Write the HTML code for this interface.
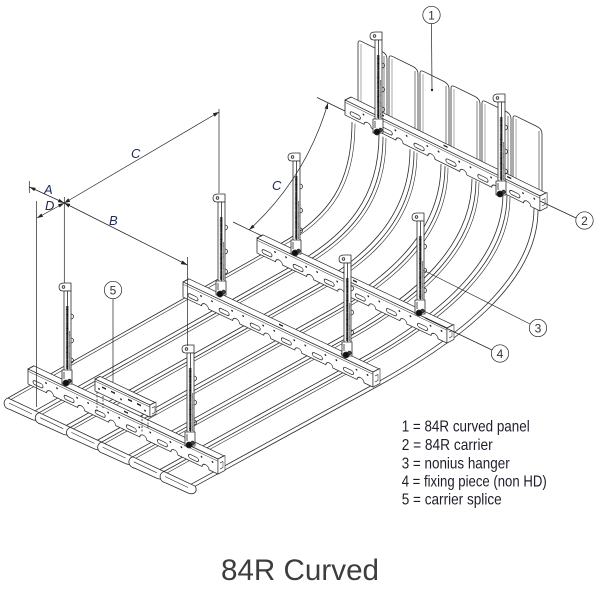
<!DOCTYPE html>
<html><head><meta charset="utf-8"><style>
html,body{margin:0;padding:0;background:#fff;}
svg{display:block;}
</style></head><body>
<svg width="600" height="600" viewBox="0 0 600 600" xmlns="http://www.w3.org/2000/svg" xmlns:xlink="http://www.w3.org/1999/xlink" stroke="#2b2b2b" stroke-width="0.8" fill="none" stroke-linejoin="round">
<defs>
 <g id="car">
  <polygon points="0,0 190,0 196,-6 6,-6" fill="#fff"/>
  <path fill="#fff" d="M0,0 H190 V15 H181 A3.5,3.5 0 0 0 174,15 H149.9 A3.5,3.5 0 0 0 142.9,15 H118.8 A3.5,3.5 0 0 0 111.8,15 H87.7 A3.5,3.5 0 0 0 80.7,15 H56.6 A3.5,3.5 0 0 0 49.6,15 H25.5 A3.5,3.5 0 0 0 18.5,15 H0 Z"/>
  <line x1="0" y1="2.2" x2="190" y2="2.2" stroke-width="0.5"/>
  <g fill="#fff">
   <rect x="5" y="8.5" width="10" height="4" rx="2"/>
   <rect x="36.1" y="8.5" width="10" height="4" rx="2"/>
   <rect x="67.2" y="8.5" width="10" height="4" rx="2"/>
   <rect x="98.3" y="8.5" width="10" height="4" rx="2"/>
   <rect x="129.4" y="8.5" width="10" height="4" rx="2"/>
   <rect x="160.5" y="8.5" width="10" height="4" rx="2"/>
  </g>
  <g fill="#222" stroke="none">
   <circle cx="18" cy="5.5" r="0.9"/><circle cx="29" cy="5.5" r="0.9"/>
   <circle cx="49.1" cy="5.5" r="0.9"/><circle cx="60.1" cy="5.5" r="0.9"/>
   <circle cx="80.2" cy="5.5" r="0.9"/><circle cx="91.2" cy="5.5" r="0.9"/>
   <circle cx="111.3" cy="5.5" r="0.9"/><circle cx="122.3" cy="5.5" r="0.9"/>
   <circle cx="142.4" cy="5.5" r="0.9"/><circle cx="153.4" cy="5.5" r="0.9"/>
   <circle cx="173.5" cy="5.5" r="0.9"/><circle cx="184.5" cy="5.5" r="0.9"/>
   <rect x="34" y="-4" width="4" height="1.5"/><rect x="96" y="-4" width="4" height="1.5"/><rect x="158" y="-4" width="4" height="1.5"/>
  </g>
  <polygon points="190,0 197,-7 197,8 190,15" fill="#fff" stroke-width="0.6"/>
  <path d="M192,3 L195,0 V6 L192,9" stroke-width="0.5"/>
 </g>
 <g id="hg">
  <path d="M-7,1 Q-7,-3 -2,-3 L5,-3 L5,5 L-3,5 Q-7,5 -7,1Z" fill="#fff"/>
  <circle cx="-2.5" cy="1" r="1.3"/>
  <rect x="-2" y="5" width="7" height="80" fill="#fff"/>
  <line x1="1.5" y1="5" x2="1.5" y2="85"/>
  <line x1="1.2" y1="20" x2="1.2" y2="83" stroke-width="2.6" stroke-dasharray="0.6 0.35" stroke="#000"/>
  <line x1="3.6" y1="45" x2="3.6" y2="83" stroke-width="1" stroke-dasharray="0.6 0.5" stroke="#222"/>
  <path d="M5,28 a2.5,2.5 0 0 1 0,5 M5,52 a2.5,2.5 0 0 1 0,5 M5,72 a2.5,2.5 0 0 1 0,5"/>
  <rect x="-4" y="84" width="10" height="14" fill="#fff"/>
  <line x1="-2" y1="86" x2="-2" y2="93"/>
  <circle cx="3.5" cy="95" r="1.8" fill="#444"/>
  <circle cx="0" cy="97" r="3" fill="#111"/>
 </g>
</defs>

<!-- panel boundaries -->
<g id="bnd">
 <path d="M8,398 L280,244 C330,216 352,182 352,122"/>
 <path d="M39.2,412.7 L296.7,267.5 C352.5,236.3 383,198.3 383,136.7"/>
 <path d="M70.4,427.4 L313.3,291 C375,256.7 414,214.7 414,151.3"/>
 <path d="M101.6,442.1 L330,314.5 C397.5,277 445,231 445,166"/>
 <path d="M132.8,456.8 L346.7,338 C420,297.3 476,247.3 476,180.7"/>
 <path d="M164,471.5 L363.3,361.5 C442.5,317.7 507,263.7 507,195.3"/>
 <path d="M195.2,486.2 L380,385 C465,338 538,280 538,210"/>
</g>
<g transform="translate(-4,-2)">
 <path d="M39.2,412.7 L296.7,267.5 C352.5,236.3 383,198.3 383,136.7"/>
 <path d="M70.4,427.4 L313.3,291 C375,256.7 414,214.7 414,151.3"/>
 <path d="M101.6,442.1 L330,314.5 C397.5,277 445,231 445,166"/>
 <path d="M132.8,456.8 L346.7,338 C420,297.3 476,247.3 476,180.7"/>
 <path d="M164,471.5 L363.3,361.5 C442.5,317.7 507,263.7 507,195.3"/>
 <path d="M195.2,486.2 L380,385 C465,338 538,280 538,210"/>
</g>
<g transform="translate(3,1.5)" stroke-width="0.6">
 <path d="M8,398 L280,244 C330,216 352,182 352,122"/>
 <path d="M39.2,412.7 L296.7,267.5 C352.5,236.3 383,198.3 383,136.7"/>
 <path d="M70.4,427.4 L313.3,291 C375,256.7 414,214.7 414,151.3"/>
 <path d="M101.6,442.1 L330,314.5 C397.5,277 445,231 445,166"/>
 <path d="M132.8,456.8 L346.7,338 C420,297.3 476,247.3 476,180.7"/>
 <path d="M164,471.5 L363.3,361.5 C442.5,317.7 507,263.7 507,195.3"/>
</g>

<!-- front profiles -->
<g fill="#fff">
 <path d="M8,398 C2,400 3,408 10,409.5 L32,419.5 C38,422 42,418 39.2,412.7 Z"/>
 <path d="M39.2,412.7 C33.2,414.7 34.2,422.7 41.2,424.2 L63.2,434.2 C69.2,436.7 73.2,432.7 70.4,427.4 Z"/>
 <path d="M70.4,427.4 C64.4,429.4 65.4,437.4 72.4,438.9 L94.4,448.9 C100.4,451.4 104.4,447.4 101.6,442.1 Z"/>
 <path d="M101.6,442.1 C95.6,444.1 96.6,452.1 103.6,453.6 L125.6,463.6 C131.6,466.1 135.6,462.1 132.8,456.8 Z"/>
 <path d="M132.8,456.8 C126.8,458.8 127.8,466.8 134.8,468.3 L156.8,478.3 C162.8,480.8 166.8,476.8 164,471.5 Z"/>
 <path d="M164,471.5 C158,473.5 159,481.5 166,483 L188,493 C194,495.5 198,491.5 195.2,486.2 Z"/>
</g>
<g stroke-width="0.6">
 <path d="M9,403 L32,414"/><path d="M40.2,417.7 L63.2,428.7"/><path d="M71.4,432.4 L94.4,443.4"/>
 <path d="M102.6,447.1 L125.6,458.1"/><path d="M133.8,461.8 L156.8,472.8"/><path d="M165,476.5 L188,487.5"/>
</g>

<!-- vertical panels -->
<g fill="#fff">
 <path d="M358,112.4 L358,43 Q358,40 361,41.2 L382,51.5 Q387,54 387,59 L387,128.4 Z"/>
 <path d="M389,127.6 L389,58 Q389,55 392,56.2 L413,66.5 Q418,69 418,74 L418,143.6 Z"/>
 <path d="M420,142.9 L420,73 Q420,70 423,71.2 L444,81.5 Q449,84 449,89 L449,158.9 Z"/>
 <path d="M451,158.1 L451,88 Q451,85 454,86.2 L475,96.5 Q480,99 480,104 L480,174.1 Z"/>
 <path d="M482,173.4 L482,103 Q482,100 485,101.2 L506,111.5 Q511,114 511,119 L511,189.4 Z"/>
 <path d="M513,188.6 L513,118 Q513,115 516,116.2 L537,126.5 Q542,129 542,134 L542,204.6 Z"/>
</g>
<path d="M384,56 V127 M415,71 V142 M446,86 V157 M477,101 V172 M508,116 V188 M539,131 V203" stroke-width="0.6"/>
<path d="M361,44 V112 M392,59 V127 M423,74 V142 M454,89 V157 M485,104 V172 M516,119 V188" stroke-width="0.4"/>

<!-- top carrier + hangers -->
<use xlink:href="#car" href="#car" transform="matrix(1.026,0.505,0,1,345,100)"/>
<use xlink:href="#hg" href="#hg" transform="translate(377,35)"/>
<use xlink:href="#hg" href="#hg" transform="translate(500,97)"/>

<!-- carrier 3 -->
<use xlink:href="#car" href="#car" transform="matrix(1,0.474,0,1,257,238)"/>
<use xlink:href="#hg" href="#hg" transform="translate(295,156)"/>
<use xlink:href="#hg" href="#hg" transform="translate(419,216)"/>

<!-- carrier 2 -->
<use xlink:href="#car" href="#car" transform="matrix(1,0.474,0,1,183,282)"/>
<use xlink:href="#hg" href="#hg" transform="translate(220,197)"/>
<use xlink:href="#hg" href="#hg" transform="translate(346,258)"/>

<!-- carrier 1 -->
<use xlink:href="#car" href="#car" transform="matrix(1,0.474,0,1,28,369)"/>

<!-- splice -->
<g stroke-dasharray="2 1.5">
 <line x1="97" y1="392" x2="97" y2="413"/><line x1="103" y1="396" x2="103" y2="408"/>
 <line x1="142" y1="412" x2="142" y2="432"/><line x1="148" y1="412" x2="148" y2="428"/>
</g>
<g transform="matrix(1,0.474,0,1,95,379)">
 <polygon points="0,0 55,0 60,-5 5,-5" fill="#fff"/>
 <rect x="0" y="0" width="55" height="12" fill="#fff"/>
 <line x1="0" y1="2" x2="55" y2="2" stroke-width="0.5"/>
 <g fill="#222" stroke="none">
  <rect x="7" y="4" width="4" height="1.6"/><rect x="16" y="4" width="4" height="1.6"/>
  <rect x="33" y="4" width="4" height="1.6"/><rect x="42" y="4" width="4" height="1.6"/>
  <circle cx="4" cy="8" r="0.9"/><circle cx="26" cy="8" r="0.9"/><circle cx="50" cy="8" r="0.9"/>
 </g>
 <polygon points="55,0 61,-6 61,6 55,12" fill="#fff" stroke-width="0.6"/>
 <path d="M57,2 L60,-1 V5 L57,8" stroke-width="0.5"/>
</g>

<use xlink:href="#hg" href="#hg" transform="translate(66,286)"/>
<use xlink:href="#hg" href="#hg" transform="translate(189,348)"/>

<!-- dimension lines -->
<g stroke-width="0.7" stroke="#222">
 <line x1="29.3" y1="181" x2="29.3" y2="193"/>
 <line x1="36.5" y1="201" x2="36.5" y2="407"/>
 <line x1="64.3" y1="197" x2="64.3" y2="283"/>
 <line x1="219" y1="109" x2="219" y2="193"/>
 <line x1="187.5" y1="257" x2="187.5" y2="346"/>
 <line x1="64.3" y1="203" x2="219" y2="112"/>
 <line x1="64.3" y1="203" x2="187.5" y2="265"/>
 <line x1="29.5" y1="187" x2="64.3" y2="203"/>
 <line x1="37" y1="218" x2="64.3" y2="203"/>
 <path d="M249,230 Q306,178 328,103"/>
 <line x1="233" y1="222" x2="262" y2="236"/>
 <line x1="317" y1="97.5" x2="345" y2="111"/>
</g>
<g fill="#222" stroke="none">
 <polygon points="219,112 214.8,116.8 212.8,113.3"/>
 <polygon points="64.3,203 70.2,201.7 68.2,198.3"/>
 <polygon points="187.5,265 180.7,264.1 182.5,260.5"/>
 <polygon points="64.3,203 68.5,207.5 70.3,203.9"/>
 <polygon points="29.5,187 34.25,191.1 35.75,187.9"/>
 <polygon points="64.3,203 57.8,202.1 59.3,198.9"/>
 <polygon points="37,218 43.1,216.7 41.3,213.5"/>
 <polygon points="64.3,203 59.7,207.5 57.9,204.3"/>
 <polygon points="249,230 254.7,227.3 252.3,224.7"/>
 <polygon points="328,103 328,109.3 324.6,108.3"/>
</g>
<g font-family="'Liberation Sans', sans-serif" font-style="italic" font-size="13" fill="#1f2a55" stroke="none">
 <text x="44" y="194">A</text>
 <text x="45" y="210">D</text>
 <text x="131" y="158">C</text>
 <text x="109" y="225">B</text>
 <text x="272" y="190">C</text>
</g>

<!-- callouts -->
<g stroke="#222" stroke-width="0.7">
 <circle cx="431.5" cy="15" r="8.7" fill="#fff"/>
 <line x1="431.5" y1="23.7" x2="432" y2="90"/>
 <circle cx="584.5" cy="220.5" r="8.7" fill="#fff"/>
 <line x1="576" y1="218" x2="540" y2="201"/>
 <circle cx="538" cy="328" r="8.7" fill="#fff"/>
 <line x1="530" y1="324" x2="423" y2="270"/>
 <circle cx="500" cy="353.5" r="8.7" fill="#fff"/>
 <line x1="492" y1="350" x2="425" y2="318"/>
 <circle cx="113" cy="290" r="8.7" fill="#fff"/>
 <line x1="113" y1="298.7" x2="113" y2="382"/>
</g>
<circle cx="432" cy="90" r="1.2" fill="#222" stroke="none"/>
<g font-family="'Liberation Sans', sans-serif" font-size="12" fill="#333" stroke="none" text-anchor="middle">
 <text x="431.5" y="19.3">1</text>
 <text x="584.5" y="224.8">2</text>
 <text x="538" y="332.3">3</text>
 <text x="500" y="357.8">4</text>
 <text x="113" y="294.3">5</text>
</g>

<!-- legend -->
<g font-family="'Liberation Sans Narrow', 'Liberation Sans', sans-serif" font-size="16" fill="#1e1e2a" stroke="none">
 <text x="401.7" y="431.7" textLength="128" lengthAdjust="spacingAndGlyphs">1 = 84R curved panel</text>
 <text x="401.7" y="450" textLength="91" lengthAdjust="spacingAndGlyphs">2 = 84R carrier</text>
 <text x="401.7" y="468.3" textLength="108" lengthAdjust="spacingAndGlyphs">3 = nonius hanger</text>
 <text x="401.7" y="486.7" textLength="145" lengthAdjust="spacingAndGlyphs">4 = fixing piece (non HD)</text>
 <text x="401.7" y="504.5" textLength="100" lengthAdjust="spacingAndGlyphs">5 = carrier splice</text>
</g>

<text x="221" y="580" font-family="'Liberation Sans', sans-serif" font-size="30" fill="#3d3d3d" stroke="none" textLength="158" lengthAdjust="spacingAndGlyphs">84R Curved</text>
</svg>
</body></html>
